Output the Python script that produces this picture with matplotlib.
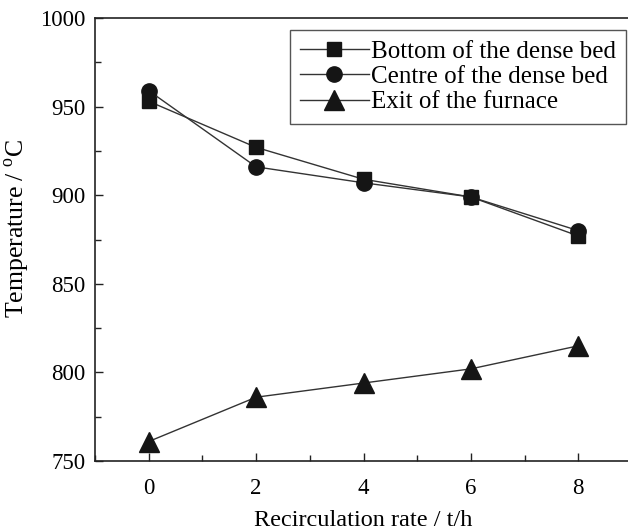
import matplotlib
matplotlib.use("Agg")
import matplotlib.pyplot as plt
from matplotlib.ticker import MultipleLocator

plt.rcParams["font.family"] = "Liberation Serif"
plt.rcParams["mathtext.fontset"] = "custom"
plt.rcParams["mathtext.rm"] = "Liberation Serif"

# recirculation rate (t/h)
rate = [0, 2, 4, 6, 8]
# temperatures (deg C)
bottom_bed = [953, 927, 909, 899, 877]
centre_bed = [959, 916, 907, 899, 880]
furnace_exit = [761, 786, 794, 802, 815]

W, H = 628, 532
fig = plt.figure(figsize=(W / 100, H / 100), dpi=100)
ax = fig.add_axes([95 / W, (H - 461) / H, (632 - 95) / W, (461 - 18) / H])

line_kw = dict(color="#333333", lw=1.0, markerfacecolor="#151515",
               markeredgecolor="#151515")
ax.plot(rate, bottom_bed, marker="s", ms=10, label="Bottom of the dense bed", **line_kw)
ax.plot(rate, centre_bed, marker="o", ms=11, label="Centre of the dense bed", **line_kw)
ax.plot(rate, furnace_exit, marker="^", ms=14, label="Exit of the furnace", **line_kw)

ax.set_xlim(-1, 9)
ax.set_ylim(750, 1000)
ax.set_xticks(rate)
ax.xaxis.set_minor_locator(MultipleLocator(1))
ax.yaxis.set_major_locator(MultipleLocator(50))
ax.yaxis.set_minor_locator(MultipleLocator(25))
ax.tick_params(which="both", direction="in", top=False, right=False,
               labelsize=16.5, width=1.0, color="#222222")
ax.tick_params(which="major", length=6)
ax.tick_params(axis="x", which="major", pad=12)
ax.tick_params(axis="y", which="major", pad=7)
ax.tick_params(which="minor", length=4)
for s in ax.spines.values():
    s.set_linewidth(1.2)
    s.set_color("#222222")

ax.set_xlabel("Recirculation rate / t/h", fontsize=17.5, labelpad=8)
# y label placed by hand so it stays inside the figure
fig.text(17 / W, (H - 228) / H, r"Temperature / $^{\mathrm{o}}$C", fontsize=18.5,
         rotation=90, ha="center", va="center")

leg = ax.legend(loc="upper right", bbox_to_anchor=(626 / W, (H - 30) / H),
                bbox_transform=fig.transFigure, fontsize=18, frameon=True,
                fancybox=False, edgecolor="#555555", framealpha=1,
                handlelength=2.75, handletextpad=0.1, borderpad=0.4,
                labelspacing=0.12, borderaxespad=0)
leg.get_frame().set_linewidth(1.0)

fig.savefig("out.png", dpi=100)
